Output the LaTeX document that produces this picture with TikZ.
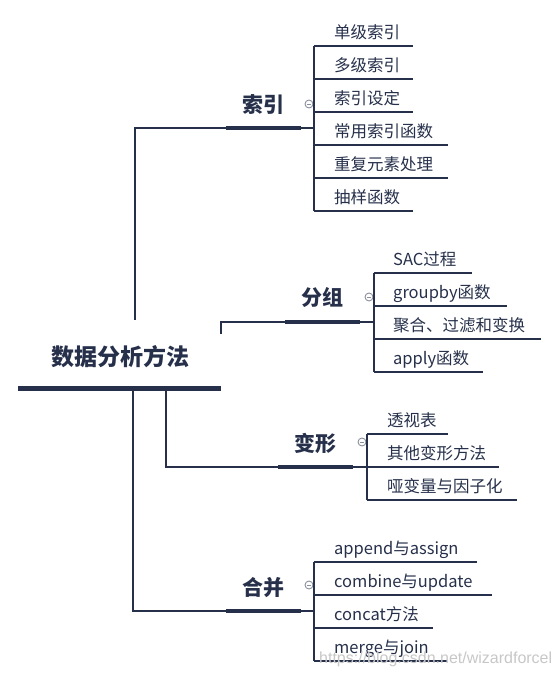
\documentclass[tikz,border=0pt]{standalone}
\usepackage{fontspec}
\setmainfont{Noto Sans CJK SC}
\newfontfamily\wmfont{Liberation Sans}
\definecolor{ink}{HTML}{26304A}
\definecolor{knob}{HTML}{8A909C}
\begin{document}
\begin{tikzpicture}[x=1pt,y=-1pt,
  link/.style={draw=ink,line width=1.1pt},
  bar/.style={draw=ink,line width=4pt},
  rootbar/.style={draw=ink,line width=5pt},
  leaf/.style={anchor=base west,inner sep=0pt,text=ink,font=\fontsize{16.5}{18}\selectfont},
  branch/.style={anchor=base,inner sep=0pt,text=ink,font=\fontsize{21}{24}\selectfont\bfseries},
  knobc/.style={draw=knob,fill=white,line width=0.9pt,circle,minimum size=8pt,inner sep=0pt}]
\useasboundingbox (0,0) rectangle (557,677);
% root
\node[anchor=base,inner sep=0pt,text=ink,font=\fontsize{23}{26}\selectfont\bfseries] (root) at (120,365) {数据分析方法};
\coordinate (rbL) at (18,388); \coordinate (rbR) at (221,388);
\draw[rootbar] (rbL) -- (rbR);
% ---------- 索引
\coordinate (b1L) at (226,128); \coordinate (b1R) at (301,128); \coordinate (b1J) at (314,128);
\node[branch] (b1) at (263,112) {索引};
\draw[bar] (b1L) -- (b1R);
\draw[link] (b1R) -- (b1J);
\coordinate (r1) at (135,320);
\draw[link] (r1) |- (b1L);
\node[knobc] (k1) at (309,104) {};
\draw[knob,line width=0.8pt] ([xshift=-2pt]k1.center) -- ([xshift=2pt]k1.center);
\foreach \y/\e/\t/\n in {46/413/单级索引/a1,79/413/多级索引/a2,112/413/索引设定/a3,145/448/常用索引函数/a4,178/448/重复元素处理/a5,211/413/抽样函数/a6}{
  \coordinate (\n l) at (314,\y); \coordinate (\n r) at (\e,\y);
  \draw[link] (\n l) -- (\n r);
  \node[leaf] (\n) at (334,\y-8) {\t};
}
\draw[link] (a1l) -- (a6l);
% ---------- 分组
\coordinate (b2L) at (285,322); \coordinate (b2R) at (360,322); \coordinate (b2J) at (374,322);
\node[branch] (b2) at (322,305) {分组};
\draw[bar] (b2L) -- (b2R);
\draw[link] (b2R) -- (b2J);
\coordinate (r2) at (221,334);
\draw[link] (r2) |- (b2L);
\node[knobc] (k2) at (369,297) {};
\draw[knob,line width=0.8pt] ([xshift=-2pt]k2.center) -- ([xshift=2pt]k2.center);
\foreach \y/\e/\t/\n in {273/472/SAC过程/c1,306/507/groupby函数/c2,339/541/聚合、过滤和变换/c3,372/483/apply函数/c4}{
  \coordinate (\n l) at (374,\y); \coordinate (\n r) at (\e,\y);
  \draw[link] (\n l) -- (\n r);
  \node[leaf] (\n) at (393,\y-8) {\t};
}
\draw[link] (c1l) -- (c4l);
% ---------- 变形
\coordinate (b3L) at (278,467); \coordinate (b3R) at (353,467); \coordinate (b3J) at (367,467);
\node[branch] (b3) at (315,451) {变形};
\draw[bar] (b3L) -- (b3R);
\draw[link] (b3R) -- (b3J);
\coordinate (r3) at (166,390);
\draw[link] (r3) |- (b3L);
\node[knobc] (k3) at (362,442) {};
\draw[knob,line width=0.8pt] ([xshift=-2pt]k3.center) -- ([xshift=2pt]k3.center);
\foreach \y/\e/\t/\n in {434/448/透视表/d1,467/499/其他变形方法/d2,500/517/哑变量与因子化/d3}{
  \coordinate (\n l) at (367,\y); \coordinate (\n r) at (\e,\y);
  \draw[link] (\n l) -- (\n r);
  \node[leaf] (\n) at (387,\y-8) {\t};
}
\draw[link] (d1l) -- (d3l);
% ---------- 合并
\coordinate (b4L) at (226,611); \coordinate (b4R) at (301,611); \coordinate (b4J) at (314,611);
\node[branch] (b4) at (263,595) {合并};
\draw[bar] (b4L) -- (b4R);
\draw[link] (b4R) -- (b4J);
\coordinate (r4) at (133,390);
\draw[link] (r4) |- (b4L);
\node[knobc] (k4) at (309,585) {};
\draw[knob,line width=0.8pt] ([xshift=-2pt]k4.center) -- ([xshift=2pt]k4.center);
\foreach \y/\e/\t/\n in {562/477/append与assign/e1,595/492/combine与update/e2,628/433/concat方法/e3,661/447/merge与join/e4}{
  \coordinate (\n l) at (314,\y); \coordinate (\n r) at (\e,\y);
  \draw[link] (\n l) -- (\n r);
  \node[leaf] (\n) at (334,\y-8) {\t};
}
\draw[link] (e1l) -- (e4l);
% watermark
\node[anchor=base west,inner sep=0pt,text=black!22,font=\wmfont\fontsize{16}{18}\selectfont] (wm) at (319,663) {https://blog.csdn.net/wizardforcel};
\end{tikzpicture}
\end{document}
